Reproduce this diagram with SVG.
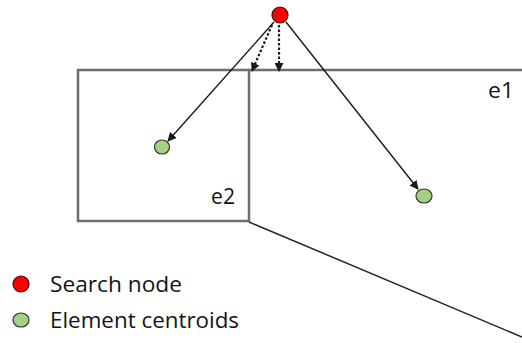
<svg xmlns="http://www.w3.org/2000/svg" width="522" height="343" viewBox="0 0 522 343">
  <style>
    .edge { fill: none; stroke: #6e6e6e; stroke-width: 2.5; }
    .cut { fill: none; stroke: #262626; stroke-width: 1.5; }
    .ray { fill: none; stroke: #1a1a1a; stroke-width: 1.4; }
    .dot { fill: none; stroke: #1a1a1a; stroke-width: 2.2; stroke-dasharray: 2.5 2; }
    .search { fill: #ff0000; stroke: #3a1010; stroke-width: 1.2; }
    .centroid { fill: #a6cf8a; stroke: #2e3a26; stroke-width: 1.2; }
    .lbl { font-family: "Open Sans", "Liberation Sans", sans-serif; font-size: 21.5px; fill: #141414; }
  </style>
  <defs>
    <marker id="triBig" viewBox="0 0 10 10" refX="9" refY="5" markerWidth="9" markerHeight="9" orient="auto" markerUnits="userSpaceOnUse">
      <path d="M0,0 L10,5 L0,10 z" fill="#1a1a1a"/>
    </marker>
  </defs>

  <!-- element e2: box on the left -->
  <g id="e2">
    <path class="edge" d="M249,70 L78,70 L78,221 L249,221"/>
    <text class="lbl" x="211" y="204" textLength="24" lengthAdjust="spacingAndGlyphs">e2</text>
  </g>

  <!-- element e1: open region to the right -->
  <g id="e1">
    <path class="edge" d="M522,70 L249,70 L249,222"/>
    <path class="cut" d="M249,222 L522,337"/>
    <text class="lbl" x="488" y="98" textLength="26" lengthAdjust="spacingAndGlyphs">e1</text>
  </g>

  <!-- connectors from the search node -->
  <g id="connectors">
    <line class="ray" x1="274" y1="22" x2="168" y2="141" marker-end="url(#triBig)"/>
    <line class="ray" x1="286" y1="22" x2="418" y2="189" marker-end="url(#triBig)"/>
    <line class="dot" x1="279" y1="25" x2="279" y2="71" marker-end="url(#triBig)"/>
    <line class="dot" x1="272" y1="25" x2="252" y2="71" marker-end="url(#triBig)"/>
  </g>

  <g id="search-node">
    <circle class="search" cx="280" cy="15" r="8"/>
  </g>
  <g id="centroid-e2">
    <ellipse class="centroid" cx="162" cy="147" rx="7.5" ry="7"/>
  </g>
  <g id="centroid-e1">
    <ellipse class="centroid" cx="424" cy="196" rx="8" ry="7"/>
  </g>

  <!-- legend -->
  <g id="legend">
    <circle class="search" cx="21" cy="284" r="8"/>
    <text class="lbl" x="50" y="292" textLength="132" lengthAdjust="spacingAndGlyphs">Search node</text>
    <ellipse class="centroid" cx="21" cy="320" rx="8" ry="7"/>
    <text class="lbl" x="50" y="328" textLength="189" lengthAdjust="spacingAndGlyphs">Element centroids</text>
  </g>
</svg>
